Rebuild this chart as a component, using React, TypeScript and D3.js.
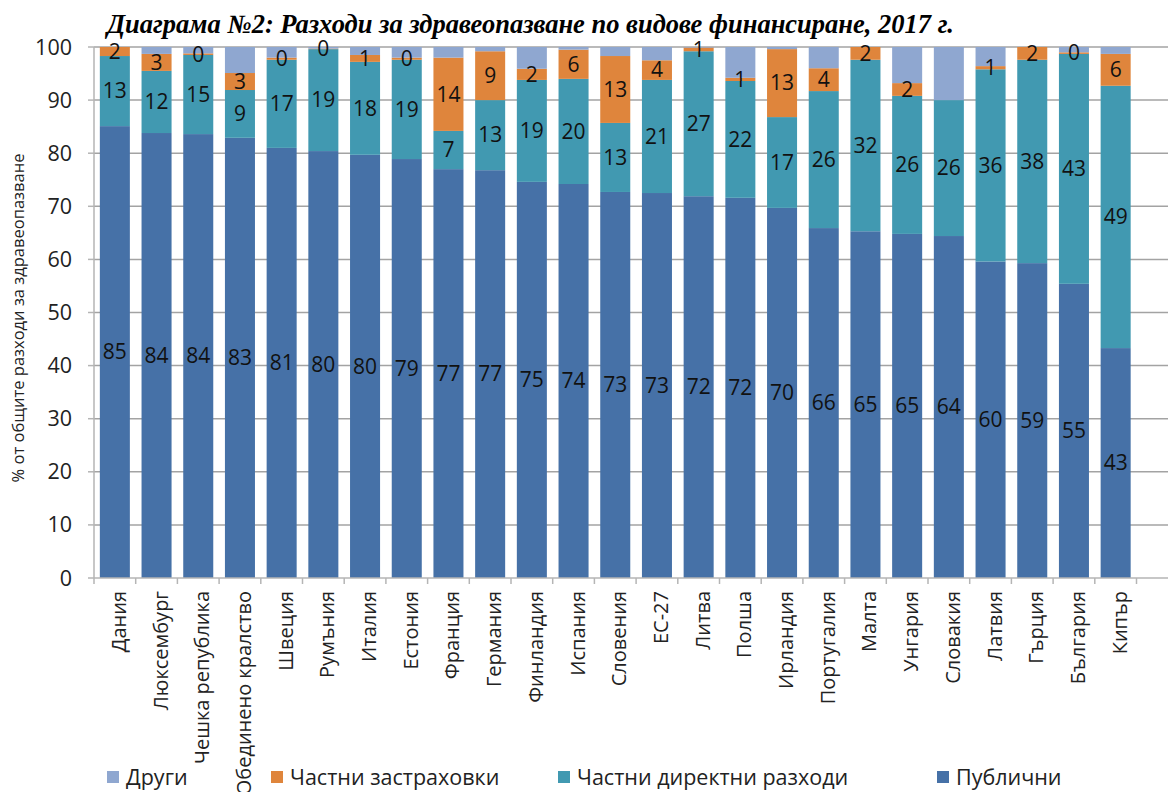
import React, { useEffect, useRef } from 'react'
import * as d3 from 'd3'

const countries = [
  'Дания', 'Люксембург', 'Чешка република', 'Обединено кралство', 'Швеция',
  'Румъния', 'Италия', 'Естония', 'Франция', 'Германия', 'Финландия',
  'Испания', 'Словения', 'ЕС-27', 'Литва', 'Полша', 'Ирландия',
  'Португалия', 'Малта', 'Унгария', 'Словакия', 'Латвия', 'Гърция',
  'България', 'Кипър',
]

const publicShare = [
  85.1, 83.8, 83.6, 82.9, 81.0, 80.4, 79.7, 78.9, 77.0, 76.8, 74.6, 74.2, 72.7,
  72.5, 71.9, 71.6, 69.7, 65.9, 65.3, 64.8, 64.4, 59.6, 59.3, 55.4, 43.3,
]
const directShare = [
  13.2, 11.7, 14.9, 9.0, 16.6, 19.2, 17.5, 18.7, 7.2, 13.2, 19.2, 19.8, 13.0,
  21.3, 27.3, 22.0, 17.1, 25.8, 32.3, 26.0, 25.6, 36.2, 38.3, 43.3, 49.4,
]
const insuranceShare = [
  1.7, 3.2, 0.3, 3.2, 0.4, 0.1, 1.3, 0.4, 13.8, 9.2, 2.1, 5.5, 12.6,
  3.7, 0.7, 0.6, 12.8, 4.3, 2.4, 2.4, 0.0, 0.6, 2.4, 0.3, 6.0,
]
const otherShare = [
  0.0, 1.3, 1.2, 4.9, 2.0, 0.3, 1.5, 2.0, 2.0, 0.8, 4.1, 0.5, 1.7,
  2.5, 0.1, 5.8, 0.4, 4.0, 0.0, 6.8, 10.0, 3.6, 0.0, 1.0, 1.3,
]

const seriesKeys = ['public', 'direct', 'insurance', 'other']
const seriesNames: Record<string, string> = {
  public: 'Публични',
  direct: 'Частни директни разходи',
  insurance: 'Частни застраховки',
  other: 'Други',
}
const colors: Record<string, string> = {
  public: '#4671a7',
  direct: '#4199b1',
  insurance: '#df853c',
  other: '#8fa7d0',
}
const yTicks = [0, 10, 20, 30, 40, 50, 60, 70, 80, 90, 100]
const labelled = ['public', 'direct', 'insurance']
const legendOrder = ['other', 'insurance', 'direct', 'public']
const legendX = [107, 271, 558, 937]

const App: React.FC = () => {
  const ref = useRef<SVGSVGElement>(null)

  useEffect(() => {
    const svg = d3.select(ref.current)
    svg.selectAll('*').remove()

    const font = '"Open Sans", "Noto Sans", sans-serif'
    const left = 94
    const bandW = 41.7
    const right = 1168
    const yTop = 47
    const yBottom = 578

    const rows = countries.map((c, i) => ({
      country: c,
      public: publicShare[i],
      direct: directShare[i],
      insurance: insuranceShare[i],
      other: otherShare[i],
    }))

    const x = d3
      .scaleBand()
      .domain(countries)
      .range([left, left + bandW * countries.length])
      .paddingInner(0.28)
      .paddingOuter(0.14)
    const y = d3.scaleLinear().domain([0, 100]).range([yBottom, yTop])

    // grid
    svg
      .append('g')
      .selectAll('line')
      .data(yTicks.filter((t) => t > 0))
      .enter()
      .append('line')
      .attr('x1', left)
      .attr('x2', right)
      .attr('y1', (d) => y(d))
      .attr('y2', (d) => y(d))
      .attr('stroke', '#a3a3a3')
      .attr('stroke-width', 1.5)

    const stack = d3.stack<any>().keys(seriesKeys)(rows)

    svg
      .append('g')
      .selectAll('g')
      .data(stack)
      .enter()
      .append('g')
      .attr('fill', (d) => colors[d.key])
      .selectAll('rect')
      .data((d) => d)
      .enter()
      .append('rect')
      .attr('x', (d: any) => x(d.data.country) as number)
      .attr('width', x.bandwidth())
      .attr('y', (d) => y(d[1]))
      .attr('height', (d) => Math.max(0, y(d[0]) - y(d[1])))

    // value labels (zero-size segments get none)
    const lbl = svg.append('g').attr('font-family', font).attr('font-size', 21).attr('fill', '#111')
    stack
      .filter((s) => labelled.includes(s.key))
      .forEach((s) => {
        lbl
          .selectAll(null)
          .data(s.filter((d) => d[1] - d[0] > 0.01))
          .enter()
          .append('text')
          .attr('x', (d: any) => (x(d.data.country) as number) + x.bandwidth() / 2)
          .attr('y', (d) => y((d[0] + d[1]) / 2))
          .attr('dy', '0.35em')
          .attr('text-anchor', 'middle')
          .text((d) => Math.round(d[1] - d[0]))
      })

    // y axis
    const ya = svg.append('g')
    ya.append('line')
      .attr('x1', left).attr('x2', left)
      .attr('y1', yTop).attr('y2', yBottom)
      .attr('stroke', '#b5b5b5').attr('stroke-width', 1.5)
    ya.selectAll('line.tick')
      .data(yTicks)
      .enter()
      .append('line')
      .attr('class', 'tick')
      .attr('x1', left - 6).attr('x2', left)
      .attr('y1', (d) => y(d)).attr('y2', (d) => y(d))
      .attr('stroke', '#b5b5b5').attr('stroke-width', 1.5)
    ya.selectAll('text')
      .data(yTicks)
      .enter()
      .append('text')
      .attr('x', 72)
      .attr('y', (d) => y(d))
      .attr('dy', '0.35em')
      .attr('text-anchor', 'end')
      .attr('font-family', font)
      .attr('font-size', 21.5)
      .attr('fill', '#222')
      .text((d) => d)

    // x axis
    const xa = svg.append('g')
    xa.append('line')
      .attr('x1', left).attr('x2', right)
      .attr('y1', yBottom).attr('y2', yBottom)
      .attr('stroke', '#b5b5b5').attr('stroke-width', 1.5)
    xa.selectAll('line.tick')
      .data(d3.range(countries.length + 1))
      .enter()
      .append('line')
      .attr('class', 'tick')
      .attr('x1', (i) => left + i * bandW).attr('x2', (i) => left + i * bandW)
      .attr('y1', yBottom).attr('y2', yBottom + 6)
      .attr('stroke', '#b5b5b5').attr('stroke-width', 1.5)
    xa.selectAll('text')
      .data(countries)
      .enter()
      .append('text')
      .attr('transform', (d) => `translate(${(x(d) as number) + x.bandwidth() / 2 + 4},${yBottom + 13}) rotate(-90)`)
      .attr('dy', '0.35em')
      .attr('text-anchor', 'end')
      .attr('font-family', font)
      .attr('font-size', 20)
      .attr('fill', '#222')
      .text((d) => d)

    // y title
    svg
      .append('text')
      .attr('transform', 'translate(18,318) rotate(-90)')
      .attr('dy', '0.35em')
      .attr('text-anchor', 'middle')
      .attr('font-family', font)
      .attr('font-size', 16.5)
      .attr('fill', '#222')
      .text('% от общите разходи за здравеопазване')

    // title
    svg
      .append('text')
      .attr('x', 107)
      .attr('y', 33)
      .attr('font-family', '"Liberation Serif", "Times New Roman", serif')
      .attr('font-weight', 'bold')
      .attr('font-style', 'italic')
      .attr('font-size', 26.5)
      .attr('fill', '#000')
      .text('Диаграма №2: Разходи за здравеопазване по видове финансиране, 2017 г.')

    // legend
    const lg = svg
      .append('g')
      .selectAll('g')
      .data(legendOrder)
      .enter()
      .append('g')
      .attr('transform', (d, i) => `translate(${legendX[i]},777)`)
    lg.append('rect')
      .attr('x', 0).attr('y', -6)
      .attr('width', 12).attr('height', 12)
      .attr('fill', (d) => colors[d])
    lg.append('text')
      .attr('x', 19)
      .attr('dy', '0.35em')
      .attr('font-family', font)
      .attr('font-size', 21.5)
      .attr('fill', '#222')
      .text((d) => seriesNames[d])
  }, [])

  return (
    <svg
      ref={ref}
      width={1168}
      height={792}
      style={{ position: 'absolute', left: 0, top: 0, background: '#fff' }}
    />
  )
}

export default App
